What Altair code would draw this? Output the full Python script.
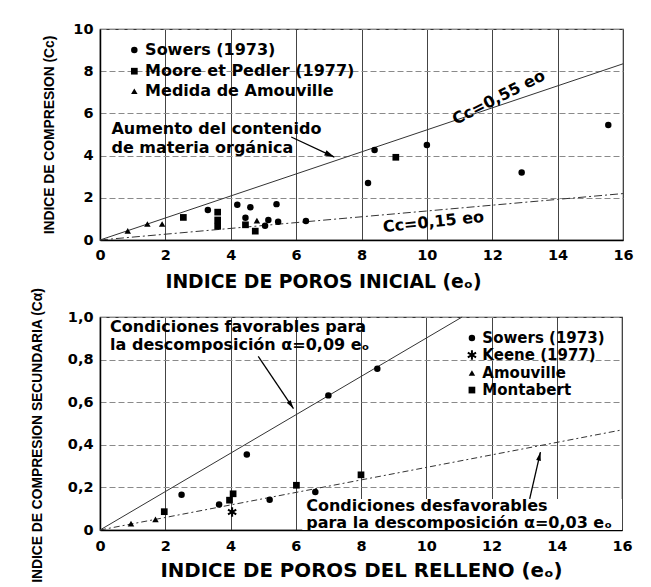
import math
import altair as alt
import pandas as pd

# ---------------- shared ticks ----------------
x_ticks = [0, 2, 4, 6, 8, 10, 12, 14, 16]
cc_ticks = [0, 2, 4, 6, 8, 10]
ca_ticks = [0, 0.2, 0.4, 0.6, 0.8, 1.0]

# ---------------- top panel data ----------------
sowers_top_e = [3.3, 4.2, 4.6, 5.4, 4.45, 5.15, 5.05, 5.45, 6.3, 8.2, 8.4, 10.0, 12.9, 15.55]
sowers_top_cc = [1.42, 1.67, 1.55, 1.7, 1.05, 0.95, 0.67, 0.87, 0.9, 2.7, 4.27, 4.5, 3.2, 5.45]
moore_e = [2.55, 3.6, 3.6, 3.6, 4.45, 4.75, 9.05]
moore_cc = [1.07, 1.32, 0.95, 0.65, 0.72, 0.42, 3.92]
amou_top_e = [0.85, 1.45, 1.9, 4.8]
amou_top_cc = [0.43, 0.76, 0.76, 0.92]

top_hi_e = [0, 16]
top_hi_cc = [0, 8.35]
top_lo_e = [0, 16]
top_lo_cc = [0, 2.2]

top_leg_text = ["Sowers (1973)", "Moore et Pedler (1977)", "Medida de Amouville"]
top_leg_shape = ["circle", "square", "triangle-up"]
top_leg_y = [9.0, 8.0, 7.05]
top_leg_sym_x = [1.05, 1.05, 1.05]
top_leg_txt_x = [1.38, 1.38, 1.38]

top_note = ["Aumento del contenido", "de materia orgánica"]
top_note_x = [0.35, 0.35]
top_note_y = [5.24, 4.36]

top_arrow_x1, top_arrow_y1 = [5.85], [4.88]
top_arrow_x2, top_arrow_y2 = [7.17], [3.93]

top_eq_text = ["Cc=0,55  eo", "Cc=0,15  eo"]
top_eq_x = [12.2, 10.2]
top_eq_y = [6.75, 0.85]
top_eq_angle = [333, 354]

# ---------------- bottom panel data ----------------
sowers_bot_e = [2.5, 3.65, 4.5, 5.2, 6.6, 7.0, 8.5]
sowers_bot_ca = [0.166, 0.12, 0.355, 0.142, 0.178, 0.632, 0.757]
keene_e = [4.05]
keene_ca = [0.085]
amou_bot_e = [0.95, 1.7]
amou_bot_ca = [0.03, 0.05]
montabert_e = [1.97, 3.97, 4.08, 6.02, 8.0]
montabert_ca = [0.086, 0.14, 0.17, 0.21, 0.259]

bot_hi_e = [0, 11.1]
bot_hi_ca = [0, 1.0]
bot_lo_e = [0, 16]
bot_lo_ca = [0, 0.47]

bot_leg_text = ["Sowers (1973)", "Keene (1977)", "Amouville", "Montabert"]
bot_leg_shape = ["circle", "star", "triangle-up", "square"]
bot_leg_y = [0.901, 0.822, 0.737, 0.657]
bot_leg_sym_x = [11.4, 11.4, 11.4, 11.4]
bot_leg_txt_x = [11.72, 11.72, 11.72, 11.72]

bot_note = ["Condiciones favorables para", "la descomposición α=0,09 eₒ",
            "Condiciones desfavorables", "para la descomposición  α=0,03 eₒ"]
bot_note_x = [0.31, 0.31, 6.32, 6.32]
bot_note_y = [0.953, 0.869, 0.113, 0.033]

bot_arrow_x1, bot_arrow_y1 = [4.85, 13.17], [0.815, 0.146]
bot_arrow_x2, bot_arrow_y2 = [5.93, 13.5], [0.57, 0.366]

bot_box_x1, bot_box_x2 = [6.2], [16]
bot_box_y1, bot_box_y2 = [0], [0.145]

# ---------------- styling ----------------
W1, H1 = 523, 211
W2, H2 = 522, 213
FONT = "DejaVu Sans"
YFONT = "Liberation Sans"
STAR = "M0,-1L0,1M-0.87,-0.5L0.87,0.5M-0.87,0.5L0.87,-0.5"
ARROWHEAD = "M0,0L-0.28,1L0.28,1Z"
SIZES = {"circle": 42, "square": 45, "triangle-up": 42, "star": 90}


class Panel:
    def __init__(self, xs, ys, xax, yax, W, H, ymax):
        self.xs, self.ys, self.xax, self.yax = xs, ys, xax, yax
        self.W, self.H, self.ymax = W, H, ymax

    def X(self, f):
        return alt.X(f, scale=self.xs, axis=self.xax)

    def Y(self, f):
        return alt.Y(f, scale=self.ys, axis=self.yax)


def point_layer(P, e, v, shape):
    df = pd.DataFrame({"e": e, "v": v})
    if shape == "star":
        mark = alt.Chart(df).mark_point(shape=STAR, filled=False, stroke="black",
                                        strokeWidth=2, size=SIZES[shape], opacity=1)
    else:
        mark = alt.Chart(df).mark_point(shape=shape, filled=True, color="black",
                                        size=SIZES[shape], opacity=1)
    return mark.encode(x=P.X("e:Q"), y=P.Y("v:Q"))


def line_layer(P, e, v, dash=None):
    df = pd.DataFrame({"e": e, "v": v})
    kw = dict(color="#333333", strokeWidth=1)
    if dash:
        kw["strokeDash"] = dash
    return alt.Chart(df).mark_line(**kw).encode(x=P.X("e:Q"), y=P.Y("v:Q"))


def text_layer(P, tx, ty, txt, size, angle=None):
    df = pd.DataFrame({"e": tx, "v": ty, "t": txt})
    enc = dict(x=P.X("e:Q"), y=P.Y("v:Q"), text="t:N")
    if angle is not None:
        df["a"] = angle
        enc["angle"] = alt.Angle("a:Q", scale=None)
        return alt.Chart(df).mark_text(font=FONT, fontWeight="bold", fontSize=size,
                                       align="center", baseline="middle",
                                       color="black").encode(**enc)
    return alt.Chart(df).mark_text(font=FONT, fontWeight="bold", fontSize=size,
                                   align="left", baseline="middle",
                                   color="black").encode(**enc)


def arrow_layers(P, x1, y1, x2, y2, head=360):
    ang = []
    for a, b, c, d in zip(x1, y1, x2, y2):
        dx = (c - a) * P.W / 16.0
        dy = (d - b) * P.H / P.ymax
        ang.append(math.degrees(math.atan2(dx, dy)) % 360)
    df = pd.DataFrame({"x1": x1, "y1": y1, "x2": x2, "y2": y2, "a": ang})
    rule = alt.Chart(df).mark_rule(color="black", strokeWidth=1.3).encode(
        x=P.X("x1:Q"), y=P.Y("y1:Q"), x2="x2:Q", y2="y2:Q")
    tip = alt.Chart(df).mark_point(shape=ARROWHEAD, filled=True, color="black",
                                   size=head, opacity=1).encode(
        x=P.X("x2:Q"), y=P.Y("y2:Q"), angle=alt.Angle("a:Q", scale=None))
    return [rule, tip]


def legend_layers(P, sx, tx, ly, labels, shapes, size):
    out = [point_layer(P, [x0], [y0], s) for x0, y0, s in zip(sx, ly, shapes)]
    out.append(text_layer(P, tx, ly, labels, size))
    return out


def x_axis(title, tx, ty, tsize, lpad):
    return alt.Axis(values=x_ticks, title=title, grid=True, gridColor="#444444",
                    gridWidth=1, ticks=False, labelFlush=False, labelPadding=lpad,
                    labelFont=FONT, labelFontWeight="bold", labelFontSize=14.5,
                    labelColor="black", domainColor="black", domainWidth=1.5,
                    titleFont=FONT, titleFontWeight="bold", titleFontSize=tsize,
                    titleColor="black", titleX=tx, titleY=ty, titleAlign="center",
                    titleBaseline="middle")


def y_axis(title, values, expr, tx, ty):
    return alt.Axis(values=values, title=title, grid=True, gridColor="#8a8a8a",
                    gridWidth=1, gridDash=[6, 3], ticks=False, labelPadding=7,
                    labelExpr=expr, labelFont=FONT, labelFontWeight="bold",
                    labelFontSize=14.5, labelColor="black", domainColor="black",
                    domainWidth=1.5, titleFont=YFONT, titleFontWeight="bold",
                    titleFontSize=13.8, titleColor="black", titleX=tx, titleY=ty,
                    titleAngle=270, titleAlign="center", titleBaseline="middle")


# ---------------- top panel ----------------
P1 = Panel(alt.Scale(domain=[0, 16], nice=False, zero=False),
           alt.Scale(domain=[0, 10], nice=False, zero=False),
           x_axis("INDICE DE POROS INICIAL (eₒ)", 223, 41, 18.8, 8),
           y_axis("INDICE DE COMPRESION  (Cc)", cc_ticks, "datum.label", -51, 105.5),
           W1, H1, 10)
top_layers = [
    line_layer(P1, top_hi_e, top_hi_cc),
    line_layer(P1, top_lo_e, top_lo_cc, dash=[8, 3, 2, 3]),
    point_layer(P1, sowers_top_e, sowers_top_cc, "circle"),
    point_layer(P1, moore_e, moore_cc, "square"),
    point_layer(P1, amou_top_e, amou_top_cc, "triangle-up"),
    text_layer(P1, top_note_x, top_note_y, top_note, 16),
    text_layer(P1, top_eq_x, top_eq_y, top_eq_text, 16, angle=top_eq_angle),
] + legend_layers(P1, top_leg_sym_x, top_leg_txt_x, top_leg_y, top_leg_text,
                  top_leg_shape, 16) \
  + arrow_layers(P1, top_arrow_x1, top_arrow_y1, top_arrow_x2, top_arrow_y2, head=400)
top = alt.layer(*top_layers).properties(width=W1, height=H1)

# ---------------- bottom panel ----------------
P2 = Panel(alt.Scale(domain=[0, 16], nice=False, zero=False),
           alt.Scale(domain=[0, 1.0], nice=False, zero=False),
           x_axis("INDICE DE POROS DEL RELLENO (eₒ)", 261, 40, 19.8, 9),
           y_axis("INDICE DE COMPRESION SECUNDARIA (Cα)", ca_ticks,
                  "datum.value == 0 ? '0' : replace(format(datum.value, '.1f'), '.', ',')",
                  -63, 118),
           W2, H2, 1.0)
box = alt.Chart(pd.DataFrame({"x1": bot_box_x1, "x2": bot_box_x2,
                              "y1": bot_box_y1, "y2": bot_box_y2})).mark_rect(
    color="white").encode(x=P2.X("x1:Q"), x2="x2:Q", y=P2.Y("y1:Q"), y2="y2:Q")
bot_layers = [
    line_layer(P2, bot_hi_e, bot_hi_ca),
    box,
    line_layer(P2, bot_lo_e, bot_lo_ca, dash=[6, 3, 2, 3]),
    point_layer(P2, sowers_bot_e, sowers_bot_ca, "circle"),
    point_layer(P2, keene_e, keene_ca, "star"),
    point_layer(P2, amou_bot_e, amou_bot_ca, "triangle-up"),
    point_layer(P2, montabert_e, montabert_ca, "square"),
    text_layer(P2, bot_note_x, bot_note_y, bot_note, 16),
] + legend_layers(P2, bot_leg_sym_x, bot_leg_txt_x, bot_leg_y, bot_leg_text,
                  bot_leg_shape, 15) \
  + arrow_layers(P2, bot_arrow_x1, bot_arrow_y1, bot_arrow_x2, bot_arrow_y2, head=300)
bottom = alt.layer(*bot_layers).properties(width=W2, height=H2)

chart = alt.vconcat(top, bottom, spacing=77, bounds="flush").properties(
    padding={"left": 21, "top": 12, "right": 0, "bottom": 0},
    background="white",
).configure_view(stroke="#333333", strokeWidth=1.2)

chart.save("out.html", embed_options={"renderer": "svg", "actions": False})
